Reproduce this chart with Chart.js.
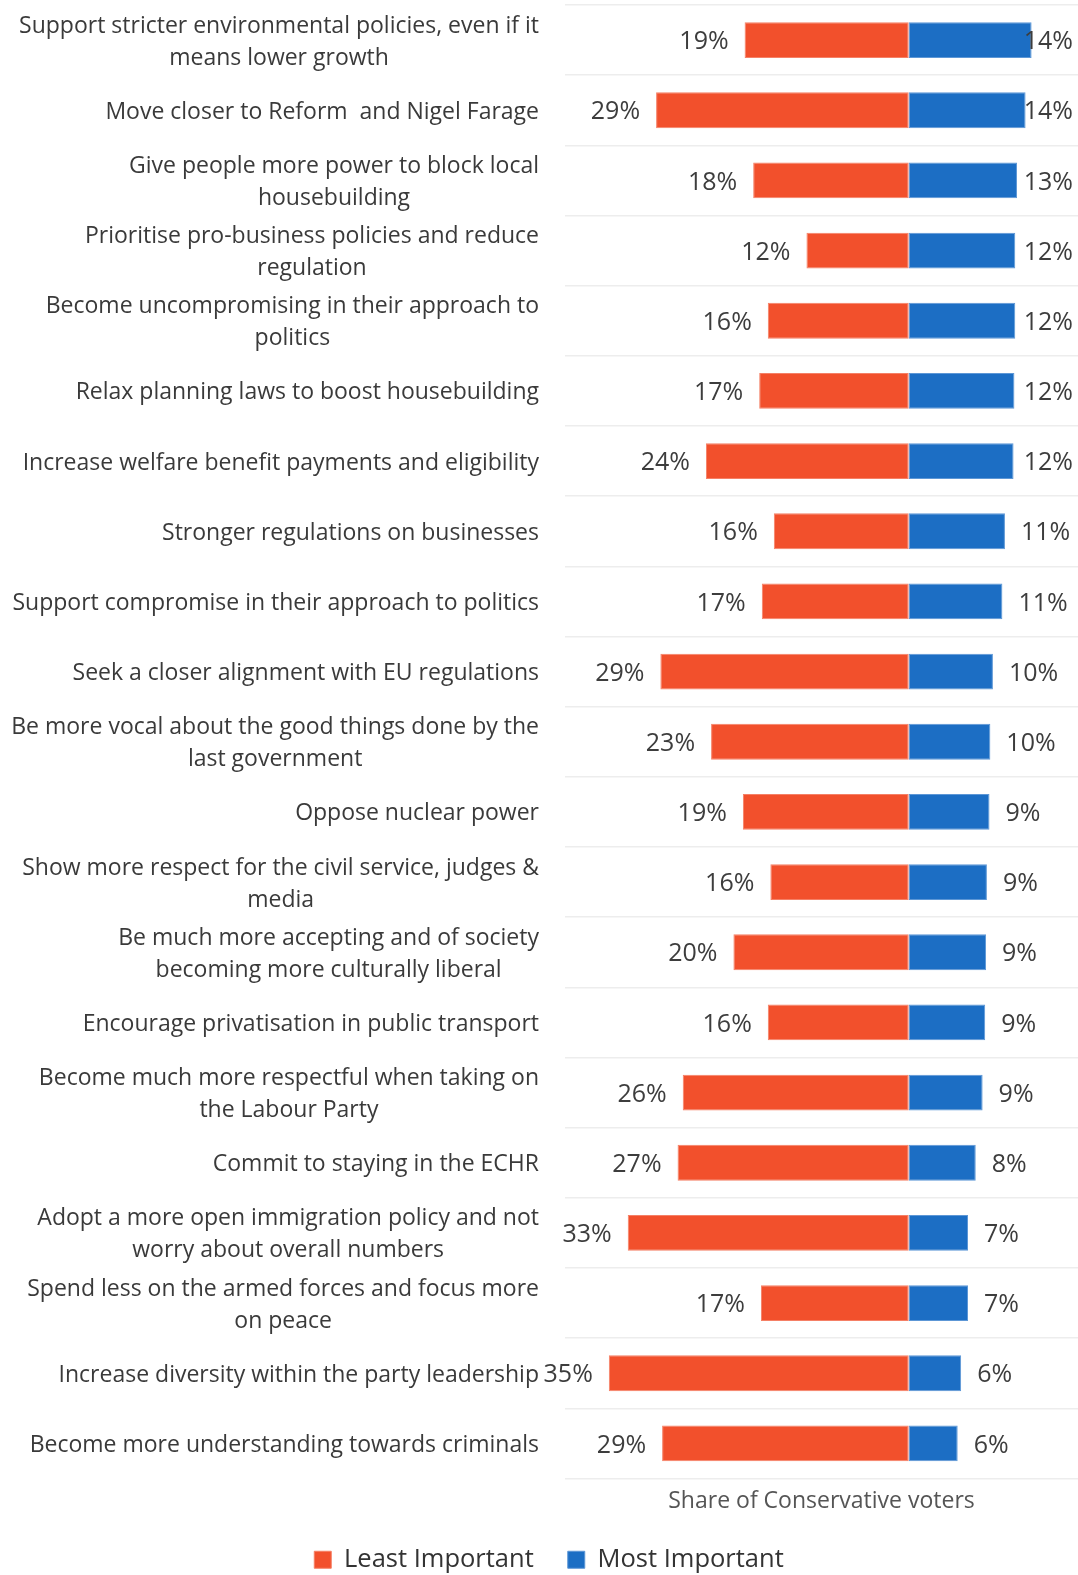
<!DOCTYPE html>
<html>
<head>
<meta charset="utf-8">
<script src="https://cdn.jsdelivr.net/npm/chart.js@4"></script>
<style>
  html, body { margin: 0; padding: 0; background: #fff; }
  #wrap { width: 1078px; height: 1575px; }
</style>
</head>
<body>
<div id="wrap"><canvas id="myChart"></canvas></div>
<script>
// categories, one entry per row, split into the lines shown on the picture
const categories = [
  ['Support stricter environmental policies, even if it', 'means lower growth'],
  ['Move closer to Reform  and Nigel Farage'],
  ['Give people more power to block local', 'housebuilding'],
  ['Prioritise pro-business policies and reduce', 'regulation'],
  ['Become uncompromising in their approach to', 'politics'],
  ['Relax planning laws to boost housebuilding'],
  ['Increase welfare benefit payments and eligibility'],
  ['Stronger regulations on businesses'],
  ['Support compromise in their approach to politics'],
  ['Seek a closer alignment with EU regulations'],
  ['Be more vocal about the good things done by the', 'last government'],
  ['Oppose nuclear power'],
  ['Show more respect for the civil service, judges &', 'media'],
  ['Be much more accepting and of society', 'becoming more culturally liberal'],
  ['Encourage privatisation in public transport'],
  ['Become much more respectful when taking on', 'the Labour Party'],
  ['Commit to staying in the ECHR'],
  ['Adopt a more open immigration policy and not', 'worry about overall numbers'],
  ['Spend less on the armed forces and focus more', 'on peace'],
  ['Increase diversity within the party leadership'],
  ['Become more understanding towards criminals']
]

// share of Conservative voters, %
const leastImportant = [19.1, 29.4, 18.1, 11.9, 16.4, 17.4, 23.6, 15.7, 17.1, 28.9, 23.0,
  19.3, 16.1, 20.4, 16.4, 26.3, 26.9, 32.7, 17.2, 34.9, 28.7]
const mostImportant = [14.3, 13.6, 12.6, 12.4, 12.4, 12.3, 12.2, 11.2, 10.9, 9.8, 9.5,
  9.4, 9.1, 9.0, 8.9, 8.6, 7.8, 6.9, 6.9, 6.1, 5.7]

const seriesNames = ['Least Important', 'Most Important']
const axisTitle = 'Share of Conservative voters'

const RED = '#f2502c'
const BLUE = '#1c6ec4'
const FONT = '"Open Sans", "Noto Sans", sans-serif'

// row labels on the left: block right-aligned, lines centred inside it
const rowLabels = {
  id: 'rowLabels',
  afterDraw(chart) {
    let ctx = chart.ctx
    let yScale = chart.scales.y
    let right = yScale.right - 26
    ctx.save()
    ctx.font = `23px ${FONT}`
    ctx.fillStyle = '#3a3a3a'
    ctx.textAlign = 'center'
    ctx.textBaseline = 'middle'
    categories.forEach((lines, i) => {
      let widest = Math.max(...lines.map(l => ctx.measureText(l).width))
      let cx = right - widest / 2
      let cy = yScale.getPixelForValue(i) + 2
      lines.forEach((line, j) => {
        ctx.fillText(line, cx, cy + (j - (lines.length - 1) / 2) * 32)
      })
    })
    ctx.restore()
  }
}

// percentage labels at the bar ends
const valueLabels = {
  id: 'valueLabels',
  afterDatasetsDraw(chart) {
    let ctx = chart.ctx
    ctx.save()
    ctx.font = `25px ${FONT}`
    ctx.fillStyle = '#3d3d3d'
    ctx.textBaseline = 'middle'
    chart.data.datasets.forEach((ds, d) => {
      chart.getDatasetMeta(d).data.forEach((bar, i) => {
        let text = Math.round(Math.abs(ds.data[i])) + '%'
        let w = ctx.measureText(text).width
        if (d === 0) {
          ctx.textAlign = 'right'
          ctx.fillText(text, bar.x - 16, bar.y + 2)
        } else {
          ctx.textAlign = 'left'
          let x = Math.min(bar.x + 16, chart.width - w - 5)
          ctx.fillText(text, x, bar.y + 2)
        }
      })
    })
    ctx.restore()
  }
}

let ctx = document.querySelector('#myChart').getContext('2d')
let myChart = new Chart(ctx, {
  type: 'bar',
  data: {
    labels: categories,
    datasets: [{
      label: seriesNames[0],
      data: leastImportant.map(v => -v),
      backgroundColor: RED,
      borderColor: '#f58066',
      borderWidth: 1,
      borderSkipped: false
    }, {
      label: seriesNames[1],
      data: mostImportant,
      backgroundColor: BLUE,
      borderColor: '#5d97d6',
      borderWidth: 1,
      borderSkipped: false
    }]
  },
  options: {
    indexAxis: 'y',
    responsive: true,
    maintainAspectRatio: false,
    animation: false,
    layout: { padding: { top: 5, right: 0, bottom: 0, left: 20 } },
    datasets: { bar: { barPercentage: 0.51, categoryPercentage: 1 } },
    scales: {
      x: {
        stacked: true,
        min: -40,
        max: 19.7,
        grid: { display: false, drawTicks: false },
        border: { display: false },
        ticks: { display: false },
        title: {
          display: true,
          text: axisTitle,
          color: '#555',
          font: { family: FONT, size: 23, lineHeight: 1 },
          padding: { top: 11.5, bottom: 0 }
        }
      },
      y: {
        stacked: true,
        grid: { color: '#ededed', lineWidth: 1.5, drawTicks: false },
        border: { display: false },
        ticks: { display: false },
        afterFit: scale => { scale.width = 545 }
      }
    },
    plugins: {
      tooltip: { enabled: false },
      legend: {
        position: 'bottom',
        maxHeight: 62,
        labels: {
          boxWidth: 17,
          boxHeight: 17,
          padding: 34,
          color: '#333',
          font: { family: FONT, size: 25.5 }
        }
      }
    }
  },
  plugins: [rowLabels, valueLabels]
})
</script>
</body>
</html>
